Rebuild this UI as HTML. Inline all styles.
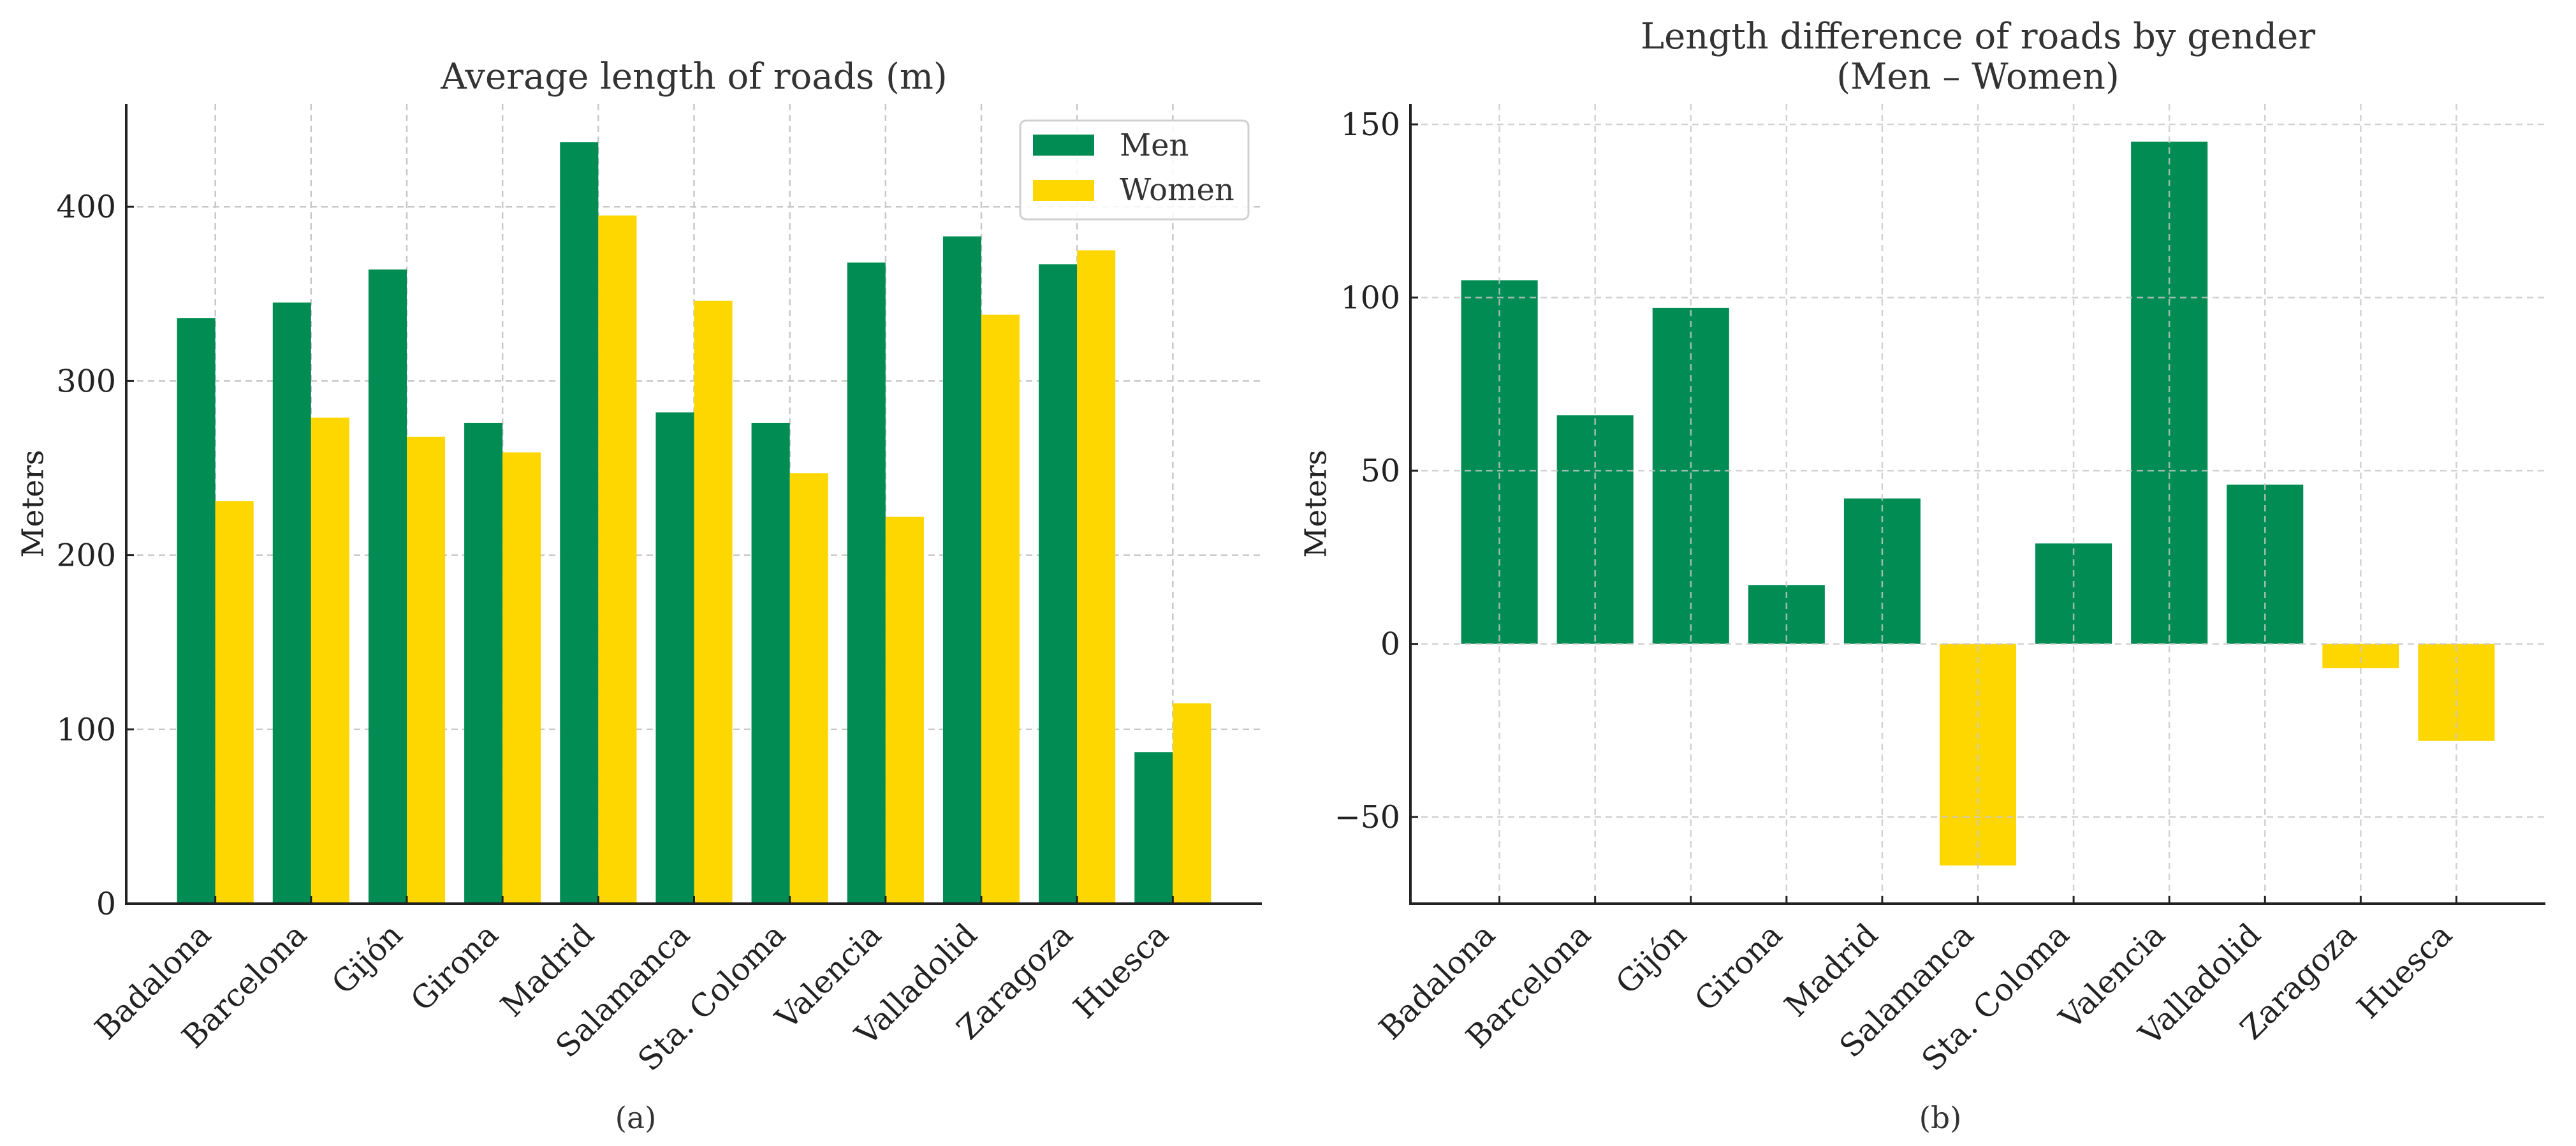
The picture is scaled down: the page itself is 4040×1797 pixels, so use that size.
<!DOCTYPE html>
<html><head><meta charset="utf-8">
<style>
html,body{margin:0;padding:0;background:#fff;}
svg{display:block;font-family:"DejaVu Serif","Liberation Serif",serif;}
</style></head>
<body>
<svg id="fig" width="4040" height="1797" viewBox="0 0 4040 1797" xmlns="http://www.w3.org/2000/svg">
<g id="left"></g>
<g id="right"></g>
</svg>
<script>
const cities = ["Badalona","Barcelona","Gijón","Girona","Madrid","Salamanca","Sta. Coloma","Valencia","Valladolid","Zaragoza","Huesca"];
const menValues = [336,345,364,276,437,282,276,368,383,367,87];
const womenValues = [231,279,268,259,395,346,247,222,338,375,115];
const diffValues = [105,66,97,17,42,-64,29,145,46,-7,-28];
const leftTicks = [0,100,200,300,400];
const rightTicks = [-50,0,50,100,150];

const NS="http://www.w3.org/2000/svg";
const GREEN="#008C52", YELLOW="#FFD700";
function mk(parent, tag, attrs, text){
  const e=document.createElementNS(NS,tag);
  for(const k in attrs) e.setAttribute(k,attrs[k]);
  if(text!==undefined) e.textContent=text;
  parent.appendChild(e); return e;
}
function axis(x0,x1,xmin,xmax,y0,y1,ymin,ymax){
  return {x:v=>x0+(v-xmin)/(xmax-xmin)*(x1-x0), y:v=>y1-(v-ymin)/(ymax-ymin)*(y1-y0)};
}
function drawChart(g, opt){
  const A=axis(opt.left,opt.right,-0.93,cities.length-1+0.93,163,1417,opt.ymin,opt.ymax);
  const grid=mk(g,'g',{});
  
  
  const bars=mk(g,'g',{});
  
  
  opt.drawBars(bars,A);
  if(opt.gridOnTop) g.appendChild(grid);
  cities.forEach((c,i)=>{
    const x=A.x(i);
    const l=mk(grid,'line',{x1:x,x2:x,y1:163,y2:1417,stroke:'#c8c8c8','stroke-width':2.5,'stroke-dasharray':'10,7',opacity:opt.gridOnTop?0.8:1});
    
    
    const t=mk(g,'line',{x1:x,x2:x,y1:1417,y2:1405,stroke:'#222','stroke-width':3});
    
    
    const lx=x-4, ly=1417+52;
    const lab=mk(g,'text',{x:lx,y:ly,'text-anchor':'end','font-size':49,fill:'#222',transform:`rotate(-45 ${lx} ${ly})`},c);
    
    
  });
  opt.ticks.forEach(v=>{
    const y=A.y(v);
    const l=mk(grid,'line',{x1:opt.left,x2:opt.right,y1:y,y2:y,stroke:'#c8c8c8','stroke-width':2.5,'stroke-dasharray':'10,7',opacity:opt.gridOnTop?0.8:1});
    
    
    const t=mk(g,'line',{x1:opt.left,x2:opt.left+12,y1:y,y2:y,stroke:'#222','stroke-width':3});
    
    
    const lab=mk(g,'text',{x:opt.left-16,y:y+17,'text-anchor':'end','font-size':49,fill:'#222'},v<0?'\u2212'+Math.abs(v):String(v));
    
    
  });
  const sp1=mk(g,'line',{x1:opt.left,x2:opt.left,y1:163,y2:1419,stroke:'#222','stroke-width':4});
  
  
  const sp2=mk(g,'line',{x1:opt.left-2,x2:opt.right,y1:1417,y2:1417,stroke:'#222','stroke-width':4});
  
  
  const yl=mk(g,'text',{x:opt.ylabelX,y:790,'text-anchor':'middle','font-size':47,fill:'#222',transform:`rotate(-90 ${opt.ylabelX} 790)`,'dominant-baseline':'central'},'Meters');
  
  
  const cx=(opt.left+opt.right)/2;
  opt.title.forEach((t,k)=>{
    const tt=mk(g,'text',{x:cx,y:opt.titleY[k],'text-anchor':'middle','font-size':56,fill:'#333'},t);
    
    
  });
  const cap=mk(g,'text',{x:opt.capX,y:1769,'text-anchor':'middle','font-size':47,fill:'#333'},opt.caption);
  
  
  return A;
}
const L=document.getElementById('left');
drawChart(L,{left:198,right:1979,ymin:0,ymax:459,ticks:leftTicks,ylabelX:52,title:["Average length of roads (m)"],titleY:[139],caption:"(a)",capX:997,
 drawBars:(g,A)=>{
  cities.forEach((c,i)=>{
    const w=A.x(0.4)-A.x(0);
    const m=mk(g,'rect',{x:A.x(i-0.4),y:A.y(menValues[i]),width:w,height:A.y(0)-A.y(menValues[i]),fill:GREEN});
    
    
    const f=mk(g,'rect',{x:A.x(i),y:A.y(womenValues[i]),width:w,height:A.y(0)-A.y(womenValues[i]),fill:YELLOW});
    
    
  });
 }});
const lg=mk(L,'g',{});


mk(lg,'rect',{x:1600,y:189,width:358,height:155,rx:9,fill:'#fff','fill-opacity':0.85,stroke:'#d0d0d0','stroke-width':3});
const e1=mk(lg,'rect',{x:1620,y:211,width:96,height:33,fill:GREEN});


const e2=mk(lg,'rect',{x:1620,y:282,width:96,height:33,fill:YELLOW});


const t1=mk(lg,'text',{x:1756,y:244,'font-size':48,fill:'#333'},'Men');


const t2=mk(lg,'text',{x:1756,y:314,'font-size':48,fill:'#333'},'Women');



const R=document.getElementById('right');
drawChart(R,{left:2212,right:3992,ymin:-75,ymax:155.9,ticks:rightTicks,ylabelX:2064,gridOnTop:true,title:["Length difference of roads by gender","(Men \u2013 Women)"],titleY:[76,139],caption:"(b)",capX:3043,
 drawBars:(g,A)=>{
  cities.forEach((c,i)=>{
    const v=diffValues[i];
    const w=A.x(0.8)-A.x(0);
    const top=Math.min(A.y(v),A.y(0));
    const b=mk(g,'rect',{x:A.x(i-0.4),y:top,width:w,height:Math.abs(A.y(v)-A.y(0)),fill:v>=0?GREEN:YELLOW});
    
    
  });
 }});
</script>
</body></html>
